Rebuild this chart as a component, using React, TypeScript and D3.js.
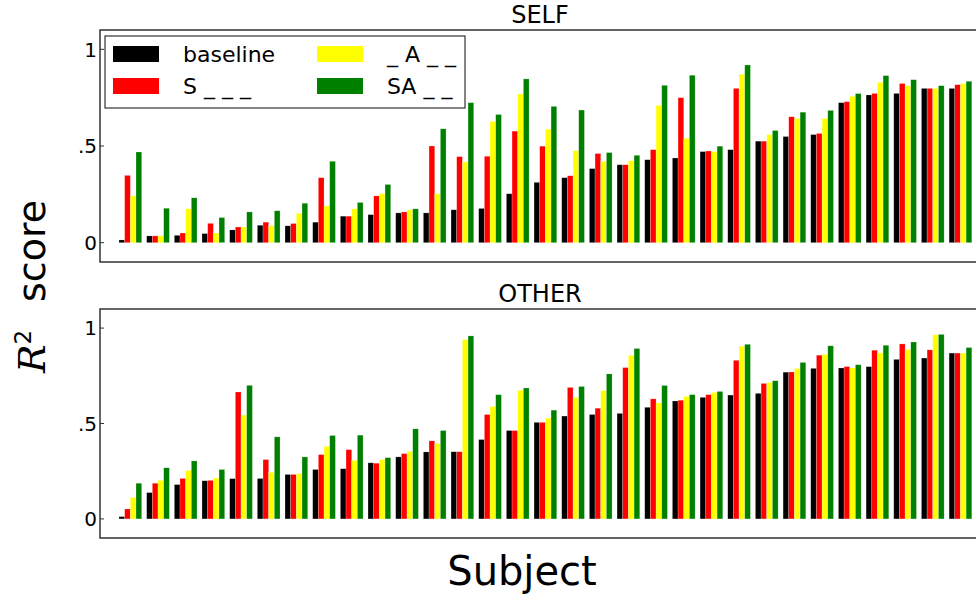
import * as d3 from 'd3';

// series names and colours
const seriesNames = ['baseline', 'S _ _ _', '_ A _ _', 'SA _ _'];
const seriesColors = ['#000000', '#ff0000', '#ffff00', '#008000'];

const subjects = d3.range(1, 32).map(String);

// SELF panel values
const selfBaseline = [0.014, 0.035, 0.038, 0.047, 0.066, 0.09, 0.087, 0.106, 0.137, 0.145, 0.154, 0.154, 0.17, 0.177, 0.253, 0.312, 0.336, 0.383, 0.403, 0.429, 0.438, 0.471, 0.481, 0.525, 0.549, 0.559, 0.724, 0.764, 0.772, 0.798, 0.798];
const selfS = [0.348, 0.035, 0.05, 0.1, 0.081, 0.106, 0.099, 0.336, 0.137, 0.242, 0.159, 0.5, 0.445, 0.447, 0.577, 0.499, 0.346, 0.461, 0.403, 0.481, 0.75, 0.474, 0.798, 0.525, 0.651, 0.565, 0.729, 0.772, 0.823, 0.798, 0.817];
const selfA = [0.242, 0.035, 0.175, 0.05, 0.081, 0.087, 0.152, 0.19, 0.175, 0.253, 0.17, 0.253, 0.417, 0.627, 0.769, 0.587, 0.476, 0.421, 0.424, 0.71, 0.54, 0.471, 0.871, 0.559, 0.642, 0.642, 0.757, 0.83, 0.812, 0.798, 0.823];
const selfSA = [0.469, 0.178, 0.232, 0.13, 0.159, 0.165, 0.204, 0.421, 0.208, 0.301, 0.175, 0.589, 0.724, 0.663, 0.847, 0.705, 0.686, 0.466, 0.452, 0.814, 0.866, 0.499, 0.919, 0.58, 0.675, 0.684, 0.771, 0.864, 0.843, 0.812, 0.835];

// OTHER panel values
const otherBaseline = [0.012, 0.138, 0.18, 0.2, 0.211, 0.212, 0.233, 0.259, 0.263, 0.294, 0.325, 0.351, 0.352, 0.416, 0.463, 0.506, 0.539, 0.547, 0.553, 0.585, 0.618, 0.637, 0.649, 0.658, 0.769, 0.789, 0.791, 0.798, 0.836, 0.843, 0.869];
const otherS = [0.052, 0.187, 0.212, 0.202, 0.665, 0.311, 0.233, 0.337, 0.363, 0.292, 0.342, 0.409, 0.352, 0.547, 0.463, 0.506, 0.689, 0.58, 0.793, 0.629, 0.622, 0.651, 0.831, 0.71, 0.77, 0.858, 0.798, 0.884, 0.917, 0.886, 0.869];
const otherA = [0.112, 0.202, 0.254, 0.214, 0.544, 0.244, 0.238, 0.38, 0.307, 0.311, 0.354, 0.396, 0.94, 0.589, 0.674, 0.528, 0.636, 0.672, 0.857, 0.608, 0.642, 0.663, 0.905, 0.715, 0.788, 0.862, 0.791, 0.87, 0.888, 0.965, 0.869];
const otherSA = [0.187, 0.268, 0.304, 0.259, 0.7, 0.43, 0.325, 0.437, 0.439, 0.321, 0.472, 0.463, 0.959, 0.651, 0.686, 0.57, 0.694, 0.76, 0.893, 0.699, 0.651, 0.668, 0.915, 0.724, 0.82, 0.907, 0.808, 0.91, 0.927, 0.967, 0.898];

const tickValues = [0, 0.5, 1];
const tickLabels = ['0', '.5', '1'];

const W = 976;
const H = 594;
const left = 100;
const right = 980;
const font = 'DejaVu Sans, sans-serif';

const x = d3.scaleBand<string>().domain(subjects).range([119, 971.8]).paddingInner(0.18).paddingOuter(0);
const xs = d3.scaleBand<number>().domain([0, 1, 2, 3]).range([0, x.bandwidth()]);

function Panel({ title, top, bottom, series }: { title: string; top: number; bottom: number; series: number[][] }) {
  const y = d3.scaleLinear().domain([-0.1, 1.1]).range([bottom, top]);
  return (
    <g>
      <text x={540} y={top - 7} textAnchor="middle" fontSize={24} fontFamily={font}>{title}</text>
      {series.map((vals, si) =>
        vals.map((v, i) => (
          <rect
            key={`${si}-${i}`}
            x={(x(subjects[i]) ?? 0) + (xs(si) ?? 0)}
            y={y(v)}
            width={xs.bandwidth()}
            height={y(0) - y(v)}
            fill={seriesColors[si]}
            stroke="#ffffff"
            strokeOpacity={0.35}
            strokeWidth={0.6}
          />
        ))
      )}
      <rect x={left} y={top} width={right - left} height={bottom - top} fill="none" stroke="#333" strokeWidth={1.5} />
      {tickValues.map((t, i) => (
        <g key={t}>
          <line x1={left} x2={left + 4} y1={y(t)} y2={y(t)} stroke="#333" />
          <text x={97} y={y(t)} dy="0.36em" textAnchor="end" fontSize={20} fontFamily={font}>{tickLabels[i]}</text>
        </g>
      ))}
    </g>
  );
}

function Legend() {
  const lx = 105;
  const ly = 36;
  const colX = [113, 317];
  const textX = [183, 387];
  const rowY = [46, 78];
  return (
    <g>
      <rect x={lx} y={ly} width={360} height={72} fill="#fff" stroke="#333" strokeWidth={1.2} />
      {seriesNames.map((name, i) => {
        const col = i < 2 ? 0 : 1;
        const row = i % 2;
        return (
          <g key={name}>
            <rect x={colX[col]} y={rowY[row]} width={46} height={16} fill={seriesColors[i]} />
            <text x={textX[col]} y={rowY[row] + 16} fontSize={22} fontFamily={font}>{name}</text>
          </g>
        );
      })}
    </g>
  );
}

export default function App() {
  return (
    <svg width={W} height={H} style={{ display: 'block', position: 'absolute', left: 0, top: 0 }}>
      <rect width={W} height={H} fill="#fff" />
      <Panel title="SELF" top={30} bottom={262} series={[selfBaseline, selfS, selfA, selfSA]} />
      <Panel title="OTHER" top={309} bottom={538} series={[otherBaseline, otherS, otherA, otherSA]} />
      <Legend />
      <text x={522} y={585} textAnchor="middle" fontSize={40} fontFamily={font}>Subject</text>
      <text transform="translate(45,373) rotate(-90)" fontSize={38}>
        <tspan fontFamily="DejaVu Serif, serif" fontStyle="italic">R</tspan>
        <tspan fontFamily={font} fontSize={23} dy={-14}>2</tspan>
      </text>
      <text transform="translate(45,302) rotate(-90)" fontSize={38} fontFamily={font}>score</text>
    </svg>
  );
}
